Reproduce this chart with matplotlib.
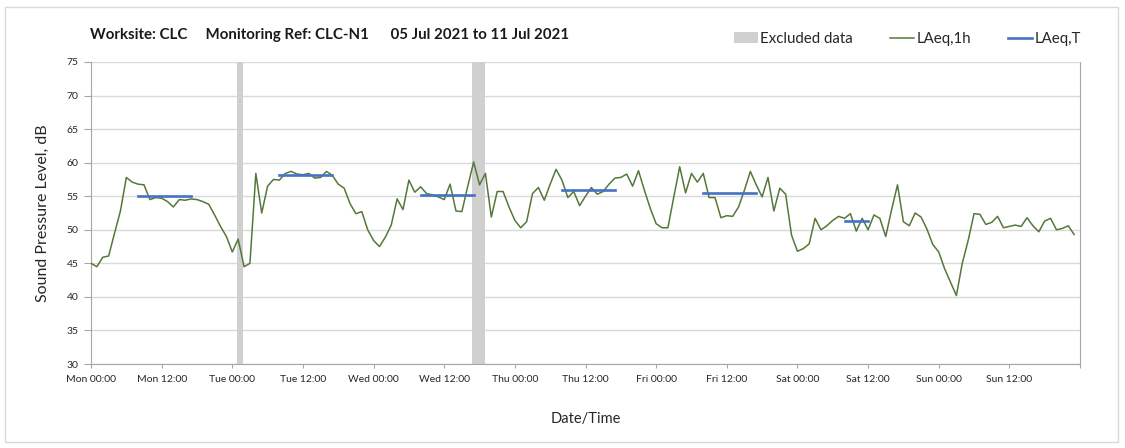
import matplotlib.pyplot as plt
from matplotlib.patches import Rectangle, Patch
from matplotlib.lines import Line2D
import numpy as np

plt.rcParams['font.family'] = ['Lato', 'DejaVu Sans']

# hourly LAeq,1h values, Mon 00:00 (hour 0) to Sun 23:00 (hour 167)
laeq_1h = [
    45.0, 44.5, 45.9, 46.1, 49.5, 52.8, 57.8, 57.1, 56.8, 56.7,
    54.5, 54.8, 54.7, 54.2, 53.4, 54.5, 54.4, 54.6, 54.5, 54.2,
    53.8, 52.2, 50.5, 49.0, 46.7, 48.6, 44.5, 45.0, 58.4, 52.5,
    56.5, 57.5, 57.4, 58.4, 58.7, 58.3, 58.2, 58.4, 57.7, 57.8,
    58.7, 58.1, 56.8, 56.2, 53.9, 52.4, 52.7, 50.0, 48.4, 47.5,
    48.9, 50.7, 54.6, 53.0, 57.4, 55.6, 56.4, 55.4, 55.2, 54.9,
    54.5, 56.8, 52.8, 52.7, 56.5, 60.1, 56.7, 58.4, 51.9, 55.7,
    55.7, 53.4, 51.4, 50.3, 51.2, 55.4, 56.3, 54.4, 56.8, 59.0,
    57.4, 54.8, 55.7, 53.6, 55.0, 56.3, 55.3, 55.7, 56.8, 57.7,
    57.8, 58.3, 56.5, 58.8, 55.9, 53.2, 50.9, 50.3, 50.3, 54.9,
    59.4, 55.5, 58.4, 57.1, 58.4, 54.8, 54.8, 51.8, 52.1, 52.0,
    53.4, 55.9, 58.7, 56.7, 54.9, 57.8, 52.8, 56.2, 55.3, 49.2,
    46.8, 47.2, 47.9, 51.7, 50.0, 50.6, 51.4, 52.0, 51.7, 52.4,
    49.8, 51.7, 50.0, 52.2, 51.7, 49.0, 53.0, 56.7, 51.2, 50.6,
    52.5, 51.9, 50.1, 47.8, 46.7, 44.2, 42.2, 40.2, 45.0, 48.4,
    52.4, 52.3, 50.8, 51.1, 52.0, 50.3, 50.5, 50.7, 50.5, 51.8,
    50.6, 49.7, 51.3, 51.7, 50.0, 50.2, 50.6, 49.3,
]
hours = np.arange(len(laeq_1h))

# LAeq,T over each assessment period: start hour, end hour, level
period_start = [8, 32, 56, 80, 104, 128]
period_end = [17, 41, 65, 89, 113, 132]
laeq_t = [55.0, 58.2, 55.15, 55.9, 55.5, 51.3]

# excluded data periods (hours from Mon 00:00)
excl_start = [24.8, 64.8]
excl_end = [25.8, 66.9]

tick_labels = ['Mon 00:00', 'Mon 12:00', 'Tue 00:00', 'Tue 12:00', 'Wed 00:00',
               'Wed 12:00', 'Thu 00:00', 'Thu 12:00', 'Fri 00:00', 'Fri 12:00',
               'Sat 00:00', 'Sat 12:00', 'Sun 00:00', 'Sun 12:00', '']

fig = plt.figure(figsize=(11.25, 4.48), dpi=100)
ax = fig.add_axes([91 / 1125, 1 - 364 / 448, (1080 - 91) / 1125, (364 - 62) / 448])

# outer chart border
fig.patches.append(Rectangle((5 / 1125, 1 - 442 / 448), 1113 / 1125, 435 / 448,
                             transform=fig.transFigure, fill=False,
                             edgecolor='#d9d9d9', lw=1))

for s, e in zip(excl_start, excl_end):
    ax.axvspan(s, e, color='#d0d0d0', lw=0, zorder=1)

ax.plot(hours, laeq_1h, color='#55783a', lw=1.1, zorder=3)
for s, e, v in zip(period_start, period_end, laeq_t):
    ax.plot([s, e], [v, v], color='#4472c4', lw=1.9, zorder=4)

ax.set_xlim(0, 168)
ax.set_ylim(30, 75)
ax.set_yticks(np.arange(30, 76, 5))
ax.set_xticks(np.arange(0, 169, 12))
ax.set_xticklabels(tick_labels)
ax.set_xticks(np.arange(0, 169, 24), minor=True)
ax.tick_params(axis='x', which='major', length=3, color='#a6a6a6', labelsize=7.5,
               pad=5, labelcolor='#262626')
ax.tick_params(axis='x', which='minor', length=0)
ax.tick_params(axis='y', length=5, color='#a6a6a6', labelsize=7.5, pad=4,
               labelcolor='#262626')
ax.grid(axis='y', which='major', color='#d9d9d9', lw=1, zorder=0)
ax.grid(axis='x', which='minor', color='#d9d9d9', lw=1, zorder=0)
ax.set_axisbelow(True)
for side in ['left', 'bottom', 'right']:
    ax.spines[side].set_color('#a6a6a6')
ax.spines['top'].set_visible(False)

ax.set_ylabel('Sound Pressure Level, dB', fontsize=11.5, color='#262626', labelpad=12)
ax.set_xlabel('Date/Time', fontsize=10.5, color='#262626', labelpad=20)

fig.text(90 / 1125, 1 - 35 / 448,
         'Worksite: CLC     Monitoring Ref: CLC-N1      05 Jul 2021 to 11 Jul 2021',
         fontsize=10.8, fontweight='bold', va='center', color='#1a1a1a')

handles = [Patch(facecolor='#d0d0d0', edgecolor='none', label='Excluded data'),
           Line2D([], [], color='#55783a', lw=1.1, label='LAeq,1h'),
           Line2D([], [], color='#4472c4', lw=1.9, label='LAeq,T')]
fig.legend(handles=handles, loc='center left', bbox_to_anchor=(720 / 1125, 1 - 39 / 448),
           ncol=3, frameon=False, fontsize=10.8, handlelength=1.6, handletextpad=0.15,
           columnspacing=2.5, labelcolor='#262626')

fig.savefig('out.png', dpi=100)
